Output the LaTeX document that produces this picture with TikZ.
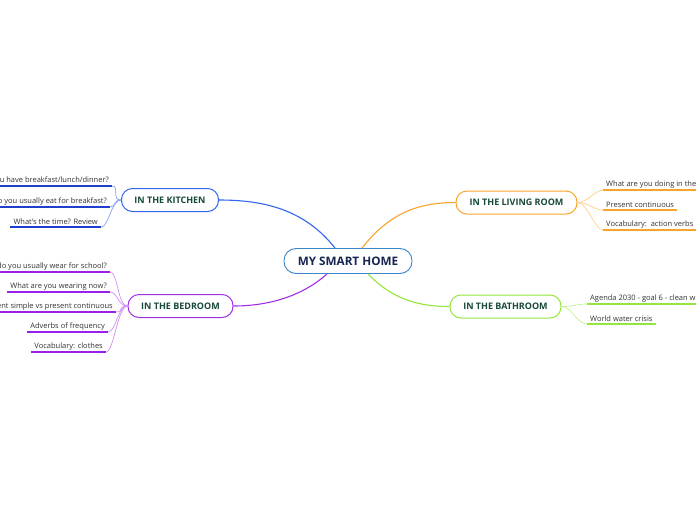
\documentclass[tikz,border=0pt]{standalone}
\usepackage{fontspec}
\setmainfont{Open Sans}
\begin{document}
\begin{tikzpicture}[x=1pt,y=-1pt,
  topic/.style={draw, line width=1pt, rounded corners=11pt, minimum height=23pt, inner sep=0pt,
    font=\bfseries\fontsize{9}{10}\selectfont, text=titlegreen, fill=white},
  leaf/.style={inner xsep=3pt, inner ysep=2pt, font=\fontsize{7.5}{9}\selectfont, text=leaftext},
  kconn/.style={draw=kitlight, line width=0.7pt},
  bconn/.style={draw=bedlight, line width=0.7pt},
  lconn/.style={draw=livlight, line width=0.7pt},
  aconn/.style={draw=bathlight, line width=0.7pt}]
\definecolor{titlegreen}{HTML}{17483C}
\definecolor{leaftext}{HTML}{333333}
\definecolor{navy}{HTML}{16264F}
\definecolor{centerblue}{HTML}{3A86C8}
\definecolor{kit}{HTML}{3366EE}
\definecolor{kitdark}{HTML}{1F3FCF}
\definecolor{kitlight}{HTML}{85A2F5}
\definecolor{bed}{HTML}{A030E8}
\definecolor{beddark}{HTML}{9A1FE8}
\definecolor{bedlight}{HTML}{CE8FF5}
\definecolor{liv}{HTML}{F7A52A}
\definecolor{livlight}{HTML}{FFD08A}
\definecolor{bath}{HTML}{92E63C}
\definecolor{bathlight}{HTML}{C2F08E}
\useasboundingbox (0,0) rectangle (696,520);
\clip (0,0) rectangle (696,520);
\fill[white] (0,0) rectangle (696,520);

% central
\node[draw=centerblue, line width=0.9pt, rounded corners=12pt, minimum width=128pt, minimum height=25pt,
  font=\bfseries\fontsize{11.7}{13}\selectfont, text=navy, fill=white] (c) at (348,261) {MY SMART HOME};

% topics
\node[topic, draw=kit, minimum width=97pt] (kit) at (170,200) {IN THE KITCHEN};
\node[topic, draw=bed, minimum width=105pt] (bed) at (180.5,306) {IN THE BEDROOM};
\node[topic, draw=liv, minimum width=121pt] (liv) at (516.5,202.5) {IN THE LIVING ROOM};
\node[topic, draw=bath, minimum width=111pt] (bath) at (505.5,306.5) {IN THE BATHROOM};

% main connectors
\draw[kit, line width=1.1pt] ([xshift=-13pt]c.north) .. controls (305,210) and (265,200) .. (kit.east);
\draw[liv, line width=1.1pt] ([xshift=14pt]c.north) .. controls (390,212) and (420,202.5) .. (liv.west);
\draw[bed, line width=1.1pt] ([xshift=-21pt]c.south) .. controls (300,298) and (265,306) .. (bed.east);
\draw[bath, line width=1.1pt] ([xshift=20pt]c.south) .. controls (393,300) and (420,306.5) .. (bath.west);

% kitchen leaves
\coordinate (k1r) at (112,186);
\coordinate (k2r) at (110,207);
\coordinate (k3r) at (101,227);
\node[leaf, anchor=south east] (k1) at (k1r) {When do you have breakfast/lunch/dinner?};
\node[leaf, anchor=south east] (k2) at (k2r) {What do you usually eat for breakfast?};
\node[leaf, anchor=south east] (k3) at (k3r) {What's the time? Review};
\foreach \n in {k1,k2,k3}{\draw[kitdark, line width=1.6pt] (\n.south west) -- (\n.south east);}
\draw[kconn] (kit.west) .. controls +(-10,0) and +(8,0) .. (k1r);
\draw[kconn] (kit.west) .. controls +(-8,0) and +(6,0) .. (k2r);
\draw[kconn] (kit.west) .. controls +(-10,0) and +(8,0) .. (k3r);

% bedroom leaves
\coordinate (b1r) at (110,272);
\coordinate (b2r) at (110,292);
\coordinate (b3r) at (116,312);
\coordinate (b4r) at (108,332);
\coordinate (b5r) at (106,352);
\node[leaf, anchor=south east] (b1) at (b1r) {What do you usually wear for school?};
\node[leaf, anchor=south east] (b2) at (b2r) {What are you wearing now?};
\node[leaf, anchor=south east] (b3) at (b3r) {Present simple vs present continuous};
\node[leaf, anchor=south east] (b4) at (b4r) {Adverbs of frequency};
\node[leaf, anchor=south east] (b5) at (b5r) {Vocabulary: clothes};
\foreach \n in {b1,b2,b3,b4,b5}{\draw[beddark, line width=1.6pt] (\n.south west) -- (\n.south east);}
\foreach \n in {b1r,b2r,b3r,b4r,b5r}{\draw[bconn] (bed.west) .. controls +(-10,0) and +(8,0) .. (\n);}

% living room leaves
\coordinate (l1l) at (603,190);
\coordinate (l2l) at (603,210);
\coordinate (l3l) at (603,230);
\node[leaf, anchor=south west] (l1) at (l1l) {What are you doing in the living room?};
\node[leaf, anchor=south west] (l2) at (l2l) {Present continuous};
\node[leaf, anchor=south west] (l3) at (l3l) {Vocabulary:\ \ action verbs};
\foreach \n in {l1,l2,l3}{\draw[liv, line width=1.6pt] (\n.south west) -- (\n.south east);}
\foreach \n in {l1l,l2l,l3l}{\draw[lconn] (liv.east) .. controls +(10,0) and +(-8,0) .. (\n);}

% bathroom leaves
\coordinate (a1l) at (587,304);
\coordinate (a2l) at (587,324);
\node[leaf, anchor=south west] (a1) at (a1l) {Agenda 2030 - goal 6 - clean water and sanitation};
\node[leaf, anchor=south west] (a2) at (a2l) {World water crisis};
\foreach \n in {a1,a2}{\draw[bath, line width=1.6pt] (\n.south west) -- (\n.south east);}
\draw[aconn] (bath.east) .. controls +(12,0) and +(-10,0) .. (a1l);
\draw[aconn] (bath.east) .. controls +(10,0) and +(-10,0) .. (a2l);
\end{tikzpicture}
\end{document}
